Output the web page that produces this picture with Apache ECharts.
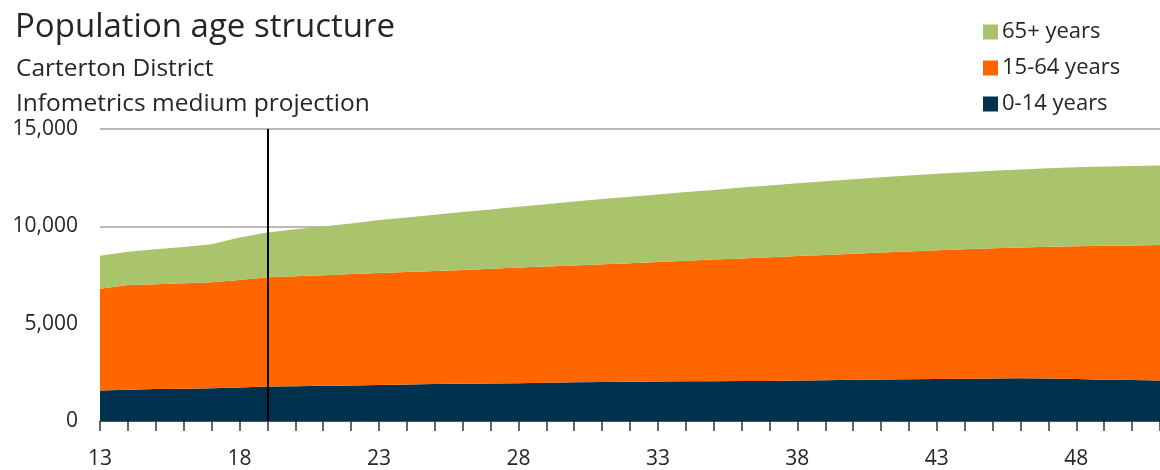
<!DOCTYPE html>
<html>
<head>
<meta charset="utf-8">
<script src="https://cdn.jsdelivr.net/npm/echarts@6/dist/echarts.min.js"></script>
<style>
  html, body { margin: 0; padding: 0; background: #fff; }
  #chart { width: 1160px; height: 470px; }
</style>
</head>
<body>
<div id="chart"></div>
<script>
// Years (2013–2051), shown as two-digit labels
const years = ['13','14','15','16','17','18','19','20','21','22','23','24','25','26','27','28','29','30','31','32',
               '33','34','35','36','37','38','39','40','41','42','43','44','45','46','47','48','49','50','51'];

// Population by age group (persons)
const age0to14 = [1570,1610,1640,1660,1680,1720,1770,1790,1810,1830,1850,1870,1895,1915,1930,1945,1960,1985,2005,2020,
                  2030,2040,2045,2050,2060,2075,2095,2115,2130,2145,2160,2170,2180,2190,2185,2160,2125,2100,2085];
const age15to64 = [5220,5380,5390,5420,5450,5520,5610,5650,5680,5720,5750,5780,5805,5845,5890,5935,5980,6005,6045,6090,
                   6140,6190,6245,6300,6350,6395,6435,6475,6520,6565,6610,6650,6690,6720,6765,6820,6875,6920,6955];
const age65plus = [1700,1700,1790,1860,1950,2180,2300,2410,2500,2600,2720,2810,2900,2970,3050,3120,3200,3280,3350,3410,
                   3470,3530,3580,3640,3690,3740,3790,3830,3870,3900,3930,3960,3980,4010,4030,4050,4070,4080,4080];

// Start of the projection period
const projectionStart = '19';

const yTicks = [0, 5000, 10000, 15000];

const FONT = '"Open Sans", "Noto Sans", sans-serif';
const TEXT = '#262626';

const chart = echarts.init(document.getElementById('chart'), null, { renderer: 'canvas' });

function areaSeries(name, data, color) {
  return {
    name: name,
    type: 'line',
    stack: 'population',
    data: data,
    showSymbol: false,
    symbol: 'none',
    lineStyle: { width: 0 },
    areaStyle: { color: color, opacity: 1 },
    itemStyle: { color: color },
    emphasis: { disabled: true },
    z: 2
  };
}

const s65 = areaSeries('65+ years', age65plus, '#aac46c');
s65.markLine = {
  silent: true,
  symbol: 'none',
  label: { show: false },
  lineStyle: { color: '#000', width: 2, type: 'solid' },
  data: [{ xAxis: projectionStart }],
  z: 5
};

chart.setOption({
  animation: false,
  backgroundColor: '#ffffff',
  title: [
    { text: 'Population age structure', left: 15, top: 11, padding: 0,
      textStyle: { fontFamily: FONT, fontSize: 33, fontWeight: 'normal', color: TEXT } },
    { text: 'Carterton District', left: 16, top: 57, padding: 0,
      textStyle: { fontFamily: FONT, fontSize: 24.5, fontWeight: 'normal', color: TEXT } },
    { text: 'Infometrics medium projection', left: 16, top: 92, padding: 0,
      textStyle: { fontFamily: FONT, fontSize: 24.5, fontWeight: 'normal', color: TEXT } }
  ],
  legend: {
    orient: 'vertical',
    left: 983,
    top: 21,
    padding: 0,
    itemWidth: 15,
    itemHeight: 15,
    itemGap: 14,
    icon: 'rect',
    data: ['65+ years', '15-64 years', '0-14 years'],
    textStyle: { fontFamily: FONT, fontSize: 22, color: TEXT, padding: [0, 0, 0, -1] }
  },
  grid: { left: 100, top: 129, bottom: 47, width: 1069, containLabel: false },
  xAxis: {
    type: 'category',
    data: years,
    boundaryGap: false,
    axisLine: { show: true, lineStyle: { color: '#555', width: 1 } },
    axisTick: { show: true, interval: 0, length: 10, lineStyle: { color: '#333', width: 1.5 } },
    axisLabel: { interval: 4, margin: 28, fontFamily: FONT, fontSize: 21, color: TEXT },
    splitLine: { show: false },
    z: 10
  },
  yAxis: {
    type: 'value',
    min: yTicks[0],
    max: yTicks[yTicks.length - 1],
    interval: 5000,
    axisLine: { show: false },
    axisTick: { show: false },
    axisLabel: {
      margin: 22, fontFamily: FONT, fontSize: 21, color: TEXT,
      formatter: v => v.toLocaleString('en-US')
    },
    splitLine: { show: true, lineStyle: { color: '#a3a3a3', width: 1.5 } }
  },
  series: [
    areaSeries('0-14 years', age0to14, '#00324f'),
    areaSeries('15-64 years', age15to64, '#ff6600'),
    s65
  ]
});
</script>
</body>
</html>
